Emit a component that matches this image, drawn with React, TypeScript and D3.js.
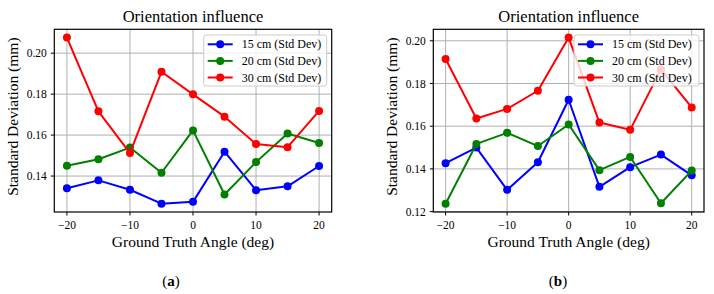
import React, { useEffect, useRef } from 'react';
import * as d3 from 'd3';

// Angles are shared by both panels
const angles = [-20, -15, -10, -5, 0, 5, 10, 15, 20];

// Panel (a)
const stdA15 = [0.1340, 0.1379, 0.1333, 0.1265, 0.1274, 0.1519, 0.1331, 0.1350, 0.1449];
const stdA20 = [0.1450, 0.1482, 0.1539, 0.1416, 0.1623, 0.1310, 0.1468, 0.1608, 0.1561];
const stdA30 = [0.2076, 0.1716, 0.1512, 0.1909, 0.1799, 0.1690, 0.1556, 0.1541, 0.1718];

// Panel (b)
const stdB15 = [0.1427, 0.1500, 0.1302, 0.1431, 0.1724, 0.1316, 0.1408, 0.1467, 0.1370];
const stdB20 = [0.1237, 0.1517, 0.1569, 0.1507, 0.1608, 0.1394, 0.1456, 0.1239, 0.1392];
const stdB30 = [0.1915, 0.1636, 0.1681, 0.1766, 0.2015, 0.1617, 0.1583, 0.1866, 0.1688];

const seriesLabels = ['15 cm (Std Dev)', '20 cm (Std Dev)', '30 cm (Std Dev)'];
const seriesColors = ['#0000ff', '#008000', '#ff0000'];

const xTicks = [-20, -10, 0, 10, 20];
const yTicksA = [0.14, 0.16, 0.18, 0.20];
const yTicksB = [0.12, 0.14, 0.16, 0.18, 0.20];

const FONT = '"Liberation Serif", "Times New Roman", serif';

const panels = [
  { left: 54.3, right: 331.7, caption: 'a', capX: 171, legendW: 123, series: [stdA15, stdA20, stdA30], yTicks: yTicksA },
  { left: 433.3, right: 704, caption: 'b', capX: 558, legendW: 125, series: [stdB15, stdB20, stdB30], yTicks: yTicksB },
];

const TOP = 29.3;
const BOTTOM = 212;

const App = () => {
  const svgRef = useRef(null);

  useEffect(() => {
    const root = d3.select(svgRef.current);
    root.selectAll('*').remove();

    panels.forEach((p) => {
      const g = root.append('g');

      // matplotlib-style 5% margins on the data range
      const all = p.series.flat();
      const [lo, hi] = d3.extent(all);
      const pad = (hi - lo) * 0.05;
      const x = d3.scaleLinear().domain([-22, 22]).range([p.left, p.right]);
      const y = d3.scaleLinear().domain([lo - pad, hi + pad]).range([BOTTOM, TOP]);

      // grid
      g.selectAll('.gx').data(xTicks).enter().append('line')
        .attr('x1', d => x(d)).attr('x2', d => x(d))
        .attr('y1', TOP).attr('y2', BOTTOM)
        .attr('stroke', '#b0b0b0').attr('stroke-width', 1);
      g.selectAll('.gy').data(p.yTicks).enter().append('line')
        .attr('x1', p.left).attr('x2', p.right)
        .attr('y1', d => y(d)).attr('y2', d => y(d))
        .attr('stroke', '#b0b0b0').attr('stroke-width', 1);

      // series
      const line = d3.line().x((d, i) => x(angles[i])).y(d => y(d));
      p.series.forEach((vals, si) => {
        g.append('path')
          .datum(vals)
          .attr('d', line)
          .attr('fill', 'none')
          .attr('stroke', seriesColors[si])
          .attr('stroke-width', 2)
          .attr('stroke-linejoin', 'round');
        g.selectAll(null).data(vals).enter().append('circle')
          .attr('cx', (d, i) => x(angles[i]))
          .attr('cy', d => y(d))
          .attr('r', 4)
          .attr('fill', seriesColors[si]);
      });

      // frame
      g.append('rect')
        .attr('x', p.left).attr('y', TOP)
        .attr('width', p.right - p.left).attr('height', BOTTOM - TOP)
        .attr('fill', 'none').attr('stroke', '#000').attr('stroke-width', 1.2);

      // x ticks
      const fmtX = d3.format('d');
      xTicks.forEach((t) => {
        g.append('line')
          .attr('x1', x(t)).attr('x2', x(t))
          .attr('y1', BOTTOM).attr('y2', BOTTOM + 3.5)
          .attr('stroke', '#000').attr('stroke-width', 1);
        g.append('text')
          .attr('x', x(t)).attr('y', BOTTOM + 16.5)
          .attr('text-anchor', 'middle')
          .style('font-family', FONT).style('font-size', '11.5px')
          .text(fmtX(t));
      });

      // y ticks
      const fmtY = d3.format('.2f');
      p.yTicks.forEach((t) => {
        g.append('line')
          .attr('x1', p.left - 3.5).attr('x2', p.left)
          .attr('y1', y(t)).attr('y2', y(t))
          .attr('stroke', '#000').attr('stroke-width', 1);
        g.append('text')
          .attr('x', p.left - 7.5).attr('y', y(t) + 4)
          .attr('text-anchor', 'end')
          .style('font-family', FONT).style('font-size', '11.5px')
          .text(fmtY(t));
      });

      const cx = (p.left + p.right) / 2;

      // title and axis labels
      g.append('text')
        .attr('x', cx).attr('y', 21.5)
        .attr('text-anchor', 'middle')
        .style('font-family', FONT).style('font-size', '16.5px')
        .text('Orientation influence');
      g.append('text')
        .attr('x', cx).attr('y', BOTTOM + 35)
        .attr('text-anchor', 'middle')
        .style('font-family', FONT).style('font-size', '15.5px')
        .text('Ground Truth Angle (deg)');
      g.append('text')
        .attr('transform', `translate(${p.left - 36},${(TOP + BOTTOM) / 2 - 4}) rotate(-90)`)
        .attr('text-anchor', 'middle')
        .style('font-family', FONT).style('font-size', '15.5px')
        .text('Standard Deviation (mm)');

      // legend, upper right
      const lw = p.legendW;
      const lx = p.right - 5 - lw;
      const ly = TOP + 5.7;
      g.append('rect')
        .attr('x', lx).attr('y', ly)
        .attr('width', lw).attr('height', 51)
        .attr('rx', 2.5)
        .attr('fill', 'rgba(255,255,255,0.8)')
        .attr('stroke', '#cccccc').attr('stroke-width', 1);
      seriesLabels.forEach((lab, i) => {
        const ry = ly + 9.3 + i * 16.6;
        g.append('line')
          .attr('x1', lx + 4).attr('x2', lx + 29)
          .attr('y1', ry).attr('y2', ry)
          .attr('stroke', seriesColors[i]).attr('stroke-width', 2);
        g.append('circle')
          .attr('cx', lx + 16.5).attr('cy', ry).attr('r', 4)
          .attr('fill', seriesColors[i]);
        g.append('text')
          .attr('x', lx + 38).attr('y', ry + 4)
          .style('font-family', FONT).style('font-size', '12px')
          .text(lab);
      });

      // sub-figure caption
      const cap = g.append('text')
        .attr('x', p.capX).attr('y', 286)
        .attr('text-anchor', 'middle')
        .style('font-family', FONT).style('font-size', '15px');
      cap.append('tspan').text('(');
      cap.append('tspan').style('font-weight', 'bold').text(p.caption);
      cap.append('tspan').text(')');
    });
  }, []);

  return (
    <svg ref={svgRef} width={714} height={294}
      style={{ position: 'absolute', left: 0, top: 0, background: '#fff' }} />
  );
};

export default App;
